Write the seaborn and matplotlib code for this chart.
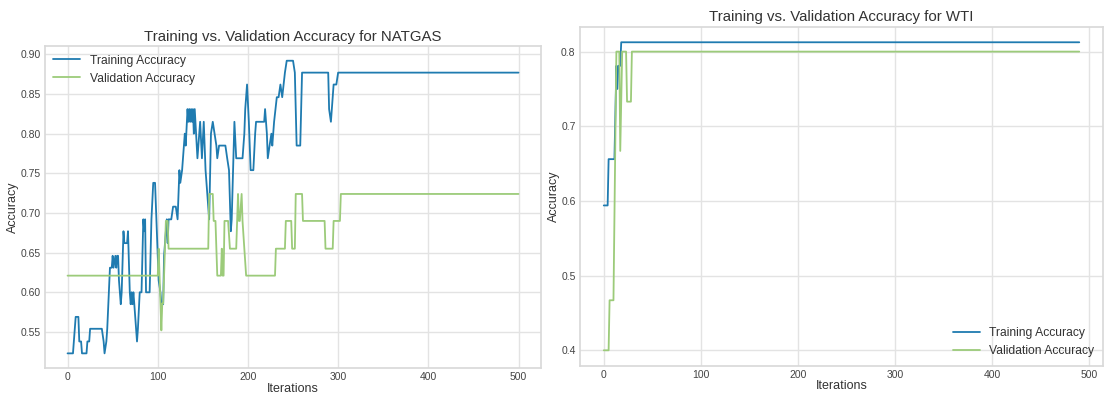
import matplotlib
matplotlib.use("Agg")
import matplotlib.pyplot as plt
import seaborn as sns
import pandas as pd

# NATGAS: accuracy at the iterations where the curves change level
natgas_train_iter = [0, 6, 8, 9, 12, 13, 15, 16, 21, 22, 24, 25, 38, 40, 41, 43, 44, 47, 49, 50,
                     51, 53, 54, 55, 56, 57, 59, 60, 62, 63, 66, 67, 69, 70, 71, 72, 73, 74, 77, 78,
                     80, 82, 84, 85, 86, 87, 91, 93, 95, 97, 99, 101, 103, 104, 106, 107, 110, 111, 112, 115,
                     117, 120, 122, 124, 125, 127, 129, 130, 131, 133, 134, 135, 136, 137, 138, 139, 140, 141, 144, 146,
                     147, 149, 151, 153, 155, 157, 159, 161, 163, 165, 166, 168, 175, 177, 179, 181, 182, 185, 187, 194,
                     196, 197, 199, 201, 203, 206, 208, 209, 218, 219, 221, 222, 224, 226, 227, 229, 232, 234, 236, 238,
                     241, 243, 250, 252, 254, 258, 260, 289, 290, 292, 293, 295, 298, 300, 500]
natgas_train_acc = [0.523, 0.523, 0.554, 0.569, 0.569, 0.538, 0.538, 0.523, 0.523, 0.538, 0.538, 0.554, 0.554, 0.538, 0.523, 0.538, 0.554, 0.631, 0.631, 0.646,
                    0.631, 0.646, 0.631, 0.646, 0.646, 0.615, 0.585, 0.600, 0.677, 0.662, 0.662, 0.677, 0.600, 0.585, 0.600, 0.585, 0.600, 0.585, 0.538, 0.554,
                    0.600, 0.600, 0.692, 0.677, 0.692, 0.600, 0.600, 0.692, 0.738, 0.738, 0.677, 0.615, 0.600, 0.585, 0.585, 0.646, 0.692, 0.662, 0.692, 0.692,
                    0.708, 0.708, 0.692, 0.754, 0.738, 0.754, 0.785, 0.800, 0.785, 0.831, 0.815, 0.831, 0.815, 0.831, 0.815, 0.831, 0.800, 0.831, 0.769, 0.800,
                    0.815, 0.769, 0.815, 0.754, 0.723, 0.692, 0.800, 0.815, 0.800, 0.785, 0.769, 0.785, 0.785, 0.769, 0.754, 0.677, 0.692, 0.815, 0.769, 0.769,
                    0.800, 0.831, 0.862, 0.815, 0.754, 0.754, 0.800, 0.815, 0.815, 0.831, 0.800, 0.769, 0.785, 0.800, 0.785, 0.815, 0.846, 0.846, 0.862, 0.846,
                    0.877, 0.892, 0.892, 0.877, 0.785, 0.785, 0.877, 0.877, 0.831, 0.815, 0.831, 0.862, 0.862, 0.877, 0.877]

natgas_val_iter = [0, 100, 101, 102, 104, 105, 106, 109, 111, 112, 156, 157, 161, 162, 164, 165, 166, 170, 171, 172,
                   173, 174, 178, 180, 187, 189, 190, 191, 193, 194, 196, 198, 230, 231, 241, 242, 248, 249, 252, 253,
                   260, 261, 285, 286, 294, 295, 302, 303, 500]
natgas_val_acc = [0.621, 0.621, 0.655, 0.621, 0.552, 0.586, 0.586, 0.690, 0.690, 0.655, 0.655, 0.724, 0.724, 0.690, 0.690, 0.655, 0.621, 0.621, 0.655, 0.621,
                  0.621, 0.690, 0.690, 0.655, 0.655, 0.724, 0.690, 0.690, 0.724, 0.690, 0.655, 0.621, 0.621, 0.655, 0.655, 0.690, 0.690, 0.655, 0.655, 0.724,
                  0.724, 0.690, 0.690, 0.655, 0.655, 0.690, 0.690, 0.724, 0.724]

# WTI
wti_train_iter = [0, 4, 5, 11, 13, 14, 15, 17, 18, 490]
wti_train_acc = [0.594, 0.594, 0.656, 0.656, 0.781, 0.750, 0.781, 0.781, 0.8125, 0.8125]
wti_val_iter = [0, 5, 6, 10, 13, 16, 17, 19, 23, 24, 28, 29, 490]
wti_val_acc = [0.400, 0.400, 0.467, 0.467, 0.800, 0.800, 0.667, 0.800, 0.800, 0.733, 0.733, 0.800, 0.800]

series_labels = ["Training Accuracy", "Validation Accuracy"]
line_colors = ["#1f7bb0", "#9ccb7a"]
natgas_yticks = [0.55, 0.60, 0.65, 0.70, 0.75, 0.80, 0.85, 0.90]
wti_yticks = [0.4, 0.5, 0.6, 0.7, 0.8]
iter_ticks = [0, 100, 200, 300, 400, 500]

sns.set_theme(style="whitegrid")
plt.rcParams["font.family"] = ["Liberation Sans", "DejaVu Sans"]
plt.rcParams.update({
    "axes.edgecolor": "#d9d9d9",
    "grid.color": "#e3e3e3",
    "xtick.color": "#444444",
    "ytick.color": "#444444",
    "axes.labelcolor": "#333333",
    "text.color": "#333333",
})

fig = plt.figure(figsize=(11.06, 3.94), dpi=100)
ax1 = fig.add_axes([0.0407, 0.066, 0.4485, 0.817])
ax2 = fig.add_axes([0.5244, 0.0718, 0.4729, 0.860])


def long_frame(tr_x, tr_y, va_x, va_y):
    a = pd.DataFrame({"Iterations": tr_x, "Accuracy": tr_y, "series": series_labels[0]})
    b = pd.DataFrame({"Iterations": va_x, "Accuracy": va_y, "series": series_labels[1]})
    return pd.concat([a, b], ignore_index=True)


df1 = long_frame(natgas_train_iter, natgas_train_acc, natgas_val_iter, natgas_val_acc)
df2 = long_frame(wti_train_iter, wti_train_acc, wti_val_iter, wti_val_acc)

for ax, df, title, loc in [(ax1, df1, "Training vs. Validation Accuracy for NATGAS", "upper left"),
                           (ax2, df2, "Training vs. Validation Accuracy for WTI", "lower right")]:
    sns.lineplot(data=df, x="Iterations", y="Accuracy", hue="series", hue_order=series_labels,
                 palette=line_colors, estimator=None, sort=False, linewidth=1.3, ax=ax)
    ax.set_title(title, fontsize=10.8, pad=4)
    ax.set_xlabel("Iterations", fontsize=9, labelpad=0.2)
    ax.set_ylabel("Accuracy", fontsize=9, labelpad=0.8)
    ax.tick_params(labelsize=7.5, length=0, pad=3.2)
    ax.set_xticks(iter_ticks)
    ax.legend(loc=loc, frameon=False, fontsize=8.7, handlelength=2.2, borderaxespad=0.3)
    for s in ax.spines.values():
        s.set_color("#d9d9d9")

ax1.set_yticks(natgas_yticks)
ax1.set_yticklabels([f"{v:.2f}" for v in natgas_yticks])
ax2.set_yticks(wti_yticks)

fig.savefig("out.png", dpi=100)
